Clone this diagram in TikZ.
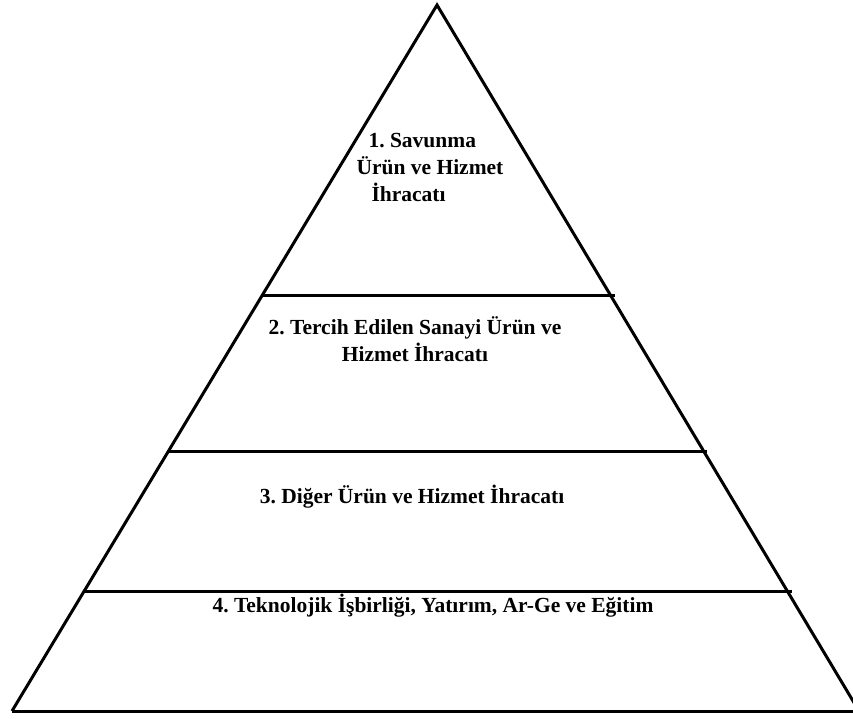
\documentclass[tikz,border=0pt]{standalone}
\usepackage{fontspec}
\setmainfont{Liberation Serif}
\frenchspacing
\begin{document}
\begin{tikzpicture}[x=1pt,y=-1pt,draw=black,line width=3pt]
\tikzset{level/.style={font=\bfseries\fontsize{21.5}{27}\selectfont,inner sep=0pt,align=center}}
\useasboundingbox (0,0) rectangle (853,718);
\clip (0,0) rectangle (853,718);
\draw [line join=miter] (12,711) -- (437,5) -- (859,711);
\draw (12,711) -- (853,711);
\draw (262,295) -- (615,295);
\draw (169,451) -- (707,451);
\draw (85,591) -- (792,591);
\node [level,align=left,anchor=north west] (savunma) at (355,132) {\hspace{12pt}1. Savunma\\Ürün ve Hizmet\\\hspace{15pt}İhracatı};
\node [level] (sanayi) at (415,339) {2. Tercih Edilen Sanayi Ürün ve\\Hizmet İhracatı};
\node [level] (diger) at (412,497) {3. Diğer Ürün ve Hizmet İhracatı};
\node [level] (teknoloji) at (433,606) {4. Teknolojik İşbirliği, Yatırım, Ar-Ge ve Eğitim};
\end{tikzpicture}
\end{document}
